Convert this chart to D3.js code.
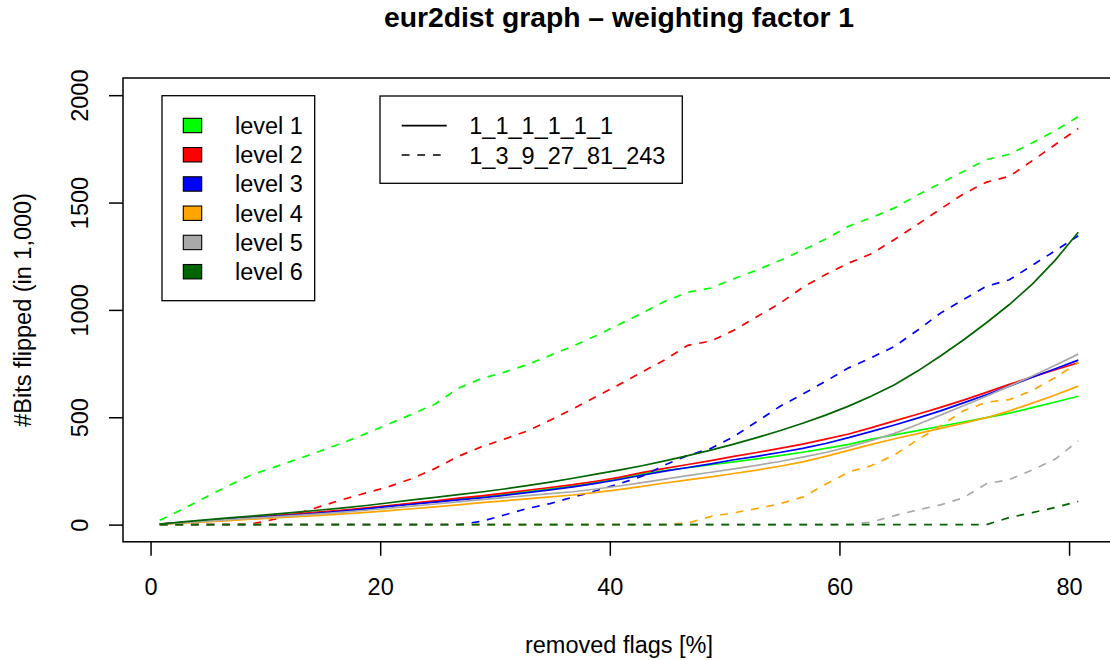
<!DOCTYPE html>
<html>
<head>
<meta charset="utf-8">
<script src="https://cdn.jsdelivr.net/npm/d3@7"></script>
<style>
  body { margin: 0; background: #fff; }
  svg { display: block; font-family: "Liberation Sans", Arial, Helvetica, sans-serif; }
</style>
</head>
<body>
<svg id="chart" width="1110" height="660"></svg>
<script>
// Share of removed flags (%)
const removedFlags = [0.8, 2.8, 4.8, 6.8, 8.8, 10.8, 12.8, 14.8, 16.8, 18.8, 20.8, 22.8, 24.8, 26.8,
  28.8, 30.8, 32.8, 34.8, 36.8, 38.8, 40.8, 42.8, 44.8, 46.8, 48.8, 50.8, 52.8, 54.8, 56.8, 58.8,
  60.8, 62.8, 64.8, 66.8, 68.8, 70.8, 72.8, 74.8, 76.8, 78.8, 80.8];

const levels = ["level 1", "level 2", "level 3", "level 4", "level 5", "level 6"];
const levelColors = ["#00ff00", "#ff0000", "#0000ff", "#ffa500", "#a9a9a9", "#006400"];

const weightings = ["1_1_1_1_1_1", "1_3_9_27_81_243"];

// Bits flipped (in 1,000), uniform weighting 1_1_1_1_1_1
const uniformL1 = [2, 10, 18, 26, 33, 40, 48, 56, 65, 75, 87, 97, 108, 119, 130, 142, 154, 167, 180, 196,
  214, 236, 252, 265, 279, 292, 306, 321, 337, 355, 374, 398, 418, 438, 458, 478, 498, 519, 545, 571, 598];
const uniformL2 = [2, 11, 19, 27, 34, 42, 50, 59, 68, 78, 89, 100, 111, 123, 134, 147, 160, 173, 186, 202,
  220, 242, 262, 280, 298, 318, 336, 355, 375, 398, 422, 452, 483, 514, 546, 580, 616, 653, 688, 721, 754];
const uniformL3 = [2, 10, 18, 25, 32, 39, 46, 54, 63, 73, 85, 95, 105, 115, 125, 136, 149, 162, 176, 192,
  210, 230, 249, 266, 283, 302, 318, 336, 355, 378, 405, 434, 464, 496, 530, 567, 605, 645, 686, 726, 766];
const uniformL4 = [1, 7, 13, 19, 25, 31, 37, 43, 50, 57, 65, 74, 83, 92, 102, 111, 120, 129, 138, 150,
  163, 178, 194, 208, 222, 238, 254, 272, 292, 318, 346, 374, 400, 424, 448, 472, 498, 530, 566, 604, 645];
const uniformL5 = [2, 9, 16, 23, 30, 36, 43, 50, 58, 67, 77, 86, 96, 106, 116, 126, 135, 144, 153, 166,
  180, 196, 212, 228, 244, 260, 276, 294, 314, 336, 362, 392, 425, 466, 510, 554, 598, 645, 692, 742, 794];
const uniformL6 = [3, 13, 22, 31, 40, 49, 58, 68, 78, 89, 102, 115, 127, 140, 152, 166, 182, 198, 216, 235,
  254, 274, 297, 321, 347, 375, 405, 437, 472, 510, 552, 599, 651, 715, 785, 860, 940, 1025, 1120, 1232, 1362];

// Bits flipped (in 1,000), weighting 1_3_9_27_81_243
const weightedL1 = [20, 72, 128, 182, 232, 268, 305, 343, 382, 425, 470, 515, 562, 635, 680, 710, 745, 788, 832, 880,
  932, 985, 1040, 1082, 1102, 1145, 1185, 1230, 1278, 1330, 1390, 1430, 1475, 1535, 1590, 1645, 1700, 1725, 1778, 1835, 1900];
const weightedL2 = [0, 0, 0, 0, 3, 25, 52, 85, 118, 148, 178, 215, 262, 318, 362, 398, 436, 486, 540, 596,
  652, 710, 768, 835, 855, 905, 968, 1030, 1105, 1165, 1218, 1262, 1328, 1398, 1470, 1540, 1595, 1622, 1695, 1770, 1845];
const weightedL3 = [0, 0, 0, 0, 0, 0, 0, 0, 0, 0, 0, 0, 0, 0, 15, 45, 75, 98, 128, 158,
  190, 225, 278, 322, 355, 410, 480, 550, 608, 668, 730, 778, 830, 905, 985, 1048, 1110, 1140, 1208, 1276, 1345];
const weightedL4 = [0, 0, 0, 0, 0, 0, 0, 0, 0, 0, 0, 0, 0, 0, 0, 0, 0, 0, 0, 0,
  0, 0, 0, 8, 38, 55, 75, 97, 128, 188, 245, 275, 325, 395, 460, 530, 570, 582, 625, 685, 755];
const weightedL5 = [0, 0, 0, 0, 0, 0, 0, 0, 0, 0, 0, 0, 0, 0, 0, 0, 0, 0, 0, 0,
  0, 0, 0, 0, 0, 0, 0, 0, 0, 0, 0, 12, 42, 68, 92, 125, 190, 210, 255, 305, 390];
const weightedL6 = [0, 0, 0, 0, 0, 0, 0, 0, 0, 0, 0, 0, 0, 0, 0, 0, 0, 0, 0, 0,
  0, 0, 0, 0, 0, 0, 0, 0, 0, 0, 0, 0, 0, 0, 0, 0, 0, 33, 56, 80, 108];

const uniformSeries = [uniformL1, uniformL2, uniformL3, uniformL4, uniformL5, uniformL6];
const weightedSeries = [weightedL1, weightedL2, weightedL3, weightedL4, weightedL5, weightedL6];

const xTicks = [0, 20, 40, 60, 80];
const yTicks = [0, 500, 1000, 1500, 2000];

// ---- layout ----
const svg = d3.select("#chart");
const plot = { left: 123, right: 1115, top: 78, bottom: 541.8 };
const fontSize = 23.5;
const lineW = 1.7;
const dash = "7.8,7.8";

// plot limits extended 4% beyond the data range on each side
const x = d3.scaleLinear().domain([-2.4, 84.0]).range([plot.left, plot.right]);
const y = d3.scaleLinear().domain([-80, 2080]).range([plot.bottom, plot.top]);

// curves
const line = d3.line().x((d, i) => x(removedFlags[i])).y(d => y(d));
const curves = svg.append("g");
levels.forEach((lv, i) => {
  curves.append("path").datum(uniformSeries[i])
    .attr("d", line).attr("fill", "none")
    .attr("stroke", levelColors[i]).attr("stroke-width", lineW);
  curves.append("path").datum(weightedSeries[i])
    .attr("d", line).attr("fill", "none")
    .attr("stroke", levelColors[i]).attr("stroke-width", lineW)
    .attr("stroke-dasharray", dash);
});

// plot frame
svg.append("rect")
  .attr("x", plot.left).attr("y", plot.top)
  .attr("width", plot.right - plot.left).attr("height", plot.bottom - plot.top)
  .attr("fill", "none").attr("stroke", "#000").attr("stroke-width", 1.5);

// x axis
const gx = svg.append("g")
  .attr("transform", `translate(0,${plot.bottom})`)
  .call(d3.axisBottom(x).tickValues(xTicks).tickSize(14).tickFormat(d3.format("d")));
gx.select(".domain").remove();
gx.selectAll(".tick line").attr("stroke", "#000").attr("stroke-width", 1.5);
gx.selectAll(".tick text")
  .attr("y", 595 - plot.bottom).attr("dy", null)
  .attr("fill", "#000").style("font-size", fontSize + "px")
  .style("font-family", "Liberation Sans, Arial, sans-serif");

// y axis
const gy = svg.append("g")
  .attr("transform", `translate(${plot.left},0)`)
  .call(d3.axisLeft(y).tickValues(yTicks).tickSize(14).tickFormat(d3.format("d")));
gy.select(".domain").remove();
gy.selectAll(".tick line").attr("stroke", "#000").attr("stroke-width", 1.5);
gy.selectAll(".tick text")
  .attr("x", null).attr("dy", null)
  .attr("transform", `translate(${87.5 - plot.left},0) rotate(-90)`)
  .attr("text-anchor", "middle")
  .attr("fill", "#000").style("font-size", fontSize + "px")
  .style("font-family", "Liberation Sans, Arial, sans-serif");

// titles
const midX = (plot.left + plot.right) / 2;
svg.append("text")
  .attr("x", midX).attr("y", 27)
  .attr("text-anchor", "middle")
  .style("font-size", "28.3px").style("font-weight", "bold")
  .text("eur2dist graph \u2013 weighting factor 1");
svg.append("text")
  .attr("x", midX).attr("y", 652.7)
  .attr("text-anchor", "middle")
  .style("font-size", fontSize + "px")
  .text("removed flags [%]");
svg.append("text")
  .attr("transform", `translate(31,${(plot.top + plot.bottom) / 2}) rotate(-90)`)
  .attr("text-anchor", "middle")
  .style("font-size", fontSize + "px")
  .text("#Bits flipped (in 1,000)");

// legend: levels
const lg1 = svg.append("g");
lg1.append("rect")
  .attr("x", 162).attr("y", 95.7).attr("width", 152.7).attr("height", 205)
  .attr("fill", "#fff").attr("stroke", "#000").attr("stroke-width", 1.3);
const rowGap = 29.24;
levels.forEach((lv, i) => {
  const cy = 125.5 + i * rowGap;
  lg1.append("rect")
    .attr("x", 183.3).attr("y", cy - 7.2).attr("width", 18.4).attr("height", 14.4)
    .attr("fill", levelColors[i]).attr("stroke", "#000").attr("stroke-width", 1.1);
  lg1.append("text")
    .attr("x", 235).attr("y", cy + 8.5)
    .style("font-size", fontSize + "px")
    .text(lv);
});

// legend: weightings
const lg2 = svg.append("g");
lg2.append("rect")
  .attr("x", 380).attr("y", 96).attr("width", 302.3).attr("height", 87.3)
  .attr("fill", "#fff").attr("stroke", "#000").attr("stroke-width", 1.3);
weightings.forEach((w, i) => {
  const cy = 125.7 + i * 29.3;
  lg2.append("line")
    .attr("x1", 401.7).attr("x2", 446.7).attr("y1", cy).attr("y2", cy)
    .attr("stroke", "#000").attr("stroke-width", lineW)
    .attr("stroke-dasharray", i === 0 ? null : dash);
  lg2.append("text")
    .attr("x", 469.3).attr("y", cy + 8.5)
    .style("font-size", fontSize + "px")
    .text(w);
});
</script>
</body>
</html>
